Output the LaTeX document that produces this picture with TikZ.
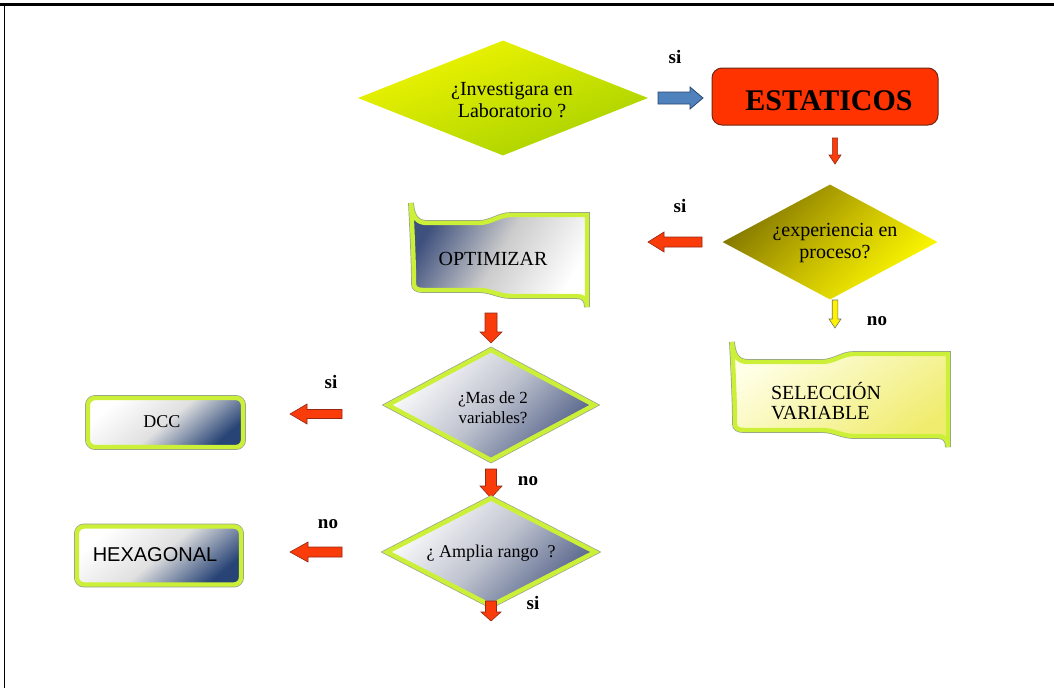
\documentclass[tikz,border=0pt]{standalone}
\usepackage{fontspec}
\setmainfont{Liberation Serif}
\newfontfamily\arialfont{Liberation Sans}
\usetikzlibrary{shapes.geometric}

\definecolor{rimgreen}{RGB}{204,240,56}
\definecolor{rimgray}{RGB}{150,160,140}
\definecolor{estred}{RGB}{255,51,0}
\definecolor{arrred}{RGB}{250,60,10}
\definecolor{arrredline}{RGB}{150,40,20}
\definecolor{arrblue}{RGB}{79,129,189}
\definecolor{arrblueline}{RGB}{40,70,110}
\definecolor{slate}{RGB}{62,80,125}
\definecolor{navy}{RGB}{40,68,118}

% block arrow pointing along +x: length, half shaft, half head, head length
\newcommand{\arrowcontour}[4]{(0,-#2) -- (#1-#4,-#2) -- (#1-#4,-#3) -- (#1,0)
  -- (#1-#4,#3) -- (#1-#4,#2) -- (0,#2) -- cycle}
% curled banner: width, height, position of the bend
\newcommand{\wavecontour}[3]{(0,0) .. controls (1.5,30) and (3,60) .. (3,#2-23)
  .. controls (3,#2-19) and (6,#2-17) .. (12,#2-17) -- (#3-16,#2-17)
  .. controls (#3-4,#2-17) and (#3+4,#2-11) .. (#3+16,#2-11) -- (#1-10,#2-11)
  .. controls (#1-3,#2-11) and (#1,#2-7) .. (#1,#2) -- (#1,12) -- (#3+16,12)
  .. controls (#3+4,12) and (#3-4,20) .. (#3-16,20) -- (16,20)
  .. controls (6,20) and (1,14) .. (0,0) -- cycle}

\begin{document}
\begin{tikzpicture}[x=1pt,y=-1pt,
  q/.style={font=\fontsize{20}{22}\selectfont, align=center, inner sep=0pt},
  lab/.style={font=\bfseries\fontsize{19}{22}\selectfont, inner sep=0pt},
  rim/.style={preaction={draw=rimgray, line width=5.8pt}, draw=rimgreen, line width=4.4pt},
  dia/.style={diamond, inner sep=0pt},
  redarrow/.style={fill=arrred, draw=arrredline, line width=0.6pt, line join=miter},
  bluearrow/.style={fill=arrblue, draw=arrblueline, line width=0.8pt},
  yelarrow/.style={fill=yellow, draw=black!55, line width=0.6pt},
  graybox/.style={rim, rounded corners=7pt, top color=white, bottom color=navy,
    middle color=black!12, shading angle=40, inner sep=0pt}]

\useasboundingbox (0,0) rectangle (1054,688);
\fill[white] (0,0) rectangle (1054,688);

% page frame
\draw[line width=2.4pt] (0,4.5) -- (1054,4.5);
\draw[line width=1.6pt] (4.5,4) -- (4.5,688);

% first question and the static branch
\node[dia, minimum width=290pt, minimum height=115pt,
  top color={rgb,255:red,242;green,246;blue,0}, bottom color={rgb,255:red,166;green,208;blue,0},
  shading angle=20] (d1) at (503,98) {};
\node[q] (t1) at (512,100) {¿Investigara en\\Laboratorio ?};
\draw[bluearrow, shift={(658,98)}] \arrowcontour{45}{6}{11}{13};
\node[lab] (l1) at (675,57) {si};

\node[rounded corners=10pt, fill=estred, draw={rgb,255:red,110;green,40;blue,20}, line width=1pt,
  minimum width=226pt, minimum height=57pt] (est) at (825,96.5) {};
\node[font=\bfseries\fontsize{30}{32}\selectfont, inner sep=0pt] (test) at (829,101) {ESTATICOS};
\draw[redarrow, shift={(835,138)}, rotate=-90] \arrowcontour{26}{2.6}{6}{9};

% experience question
\node[dia, minimum width=215pt, minimum height=115pt,
  top color={rgb,255:red,128;green,116;blue,0}, bottom color={rgb,255:red,255;green,252;blue,0},
  middle color={rgb,255:red,200;green,188;blue,0}, shading angle=45] (d2) at (830,242) {};
\node[q] (t2) at (835,243) {¿experiencia en\\proceso?};
\node[lab] (l2) at (680,206) {si};
\draw[redarrow, shift={(702,242)}, rotate=180] \arrowcontour{54}{5}{10}{16};
\draw[yelarrow, shift={(835,300)}, rotate=-90] \arrowcontour{28}{2.8}{6}{9};
\node[lab] (l3) at (877,321) {no};

% variable selection banner
\draw[rim, top color={rgb,255:red,255;green,255;blue,232}, bottom color={rgb,255:red,240;green,236;blue,110},
  shading angle=35, shift={(732,342)}] \wavecontour{216}{105}{106};
\node[q, align=left, font=\fontsize{20}{20}\selectfont] (t3) at (826,401) {SELECCIÓN\\VARIABLE};

% optimisation banner
\draw[rim, top color=slate, bottom color=white, middle color=black!20,
  shading angle=60, shift={(411,203)}] \wavecontour{176}{104}{84};
\node[q] (t4) at (493,259) {OPTIMIZAR};
\draw[redarrow, shift={(491,313)}, rotate=-90] \arrowcontour{30}{6}{11}{11};

% more than two variables
\node[dia, rim, minimum width=208pt, minimum height=112pt,
  top color=white, bottom color={rgb,255:red,80;green,95;blue,135},
  middle color={rgb,255:red,190;green,194;blue,206}, shading angle=45] (d3) at (491,405) {};
\node[q, font=\fontsize{17}{20}\selectfont] (t5) at (493,408) {¿Mas de 2\\variables?};
\node[lab] (l4) at (331,382) {si};
\draw[redarrow, shift={(342,414)}, rotate=180] \arrowcontour{52}{4.5}{10}{17};
\node[graybox, minimum width=155pt, minimum height=49pt] (dcc) at (165.5,422.5) {};
\node[q, font=\fontsize{18}{20}\selectfont] (t6) at (162,422) {DCC};

\node[lab] (l5) at (528,481) {no};
\draw[redarrow, shift={(491,469)}, rotate=-90] \arrowcontour{29}{5.5}{11}{12};

% range question
\node[dia, rim, minimum width=210pt, minimum height=109pt,
  top color=white, bottom color={rgb,255:red,80;green,95;blue,135},
  middle color={rgb,255:red,190;green,194;blue,206}, shading angle=45] (d4) at (491,552) {};
\node[q, font=\fontsize{18}{20}\selectfont] (t7) at (491,553) {¿ Amplia rango~~?};
\node[lab] (l6) at (328,524) {no};
\draw[redarrow, shift={(342,552)}, rotate=180] \arrowcontour{52}{5}{10}{18};
\node[graybox, minimum width=164pt, minimum height=58pt] (hex) at (159,555.5) {};
\node[font=\arialfont\fontsize{20}{22}\selectfont, inner sep=0pt] (t8) at (155,555) {HEXAGONAL};

\draw[redarrow, shift={(491,601)}, rotate=-90] \arrowcontour{20}{5.5}{10}{9};
\node[lab] (l7) at (533,603) {si};
\end{tikzpicture}
\end{document}
